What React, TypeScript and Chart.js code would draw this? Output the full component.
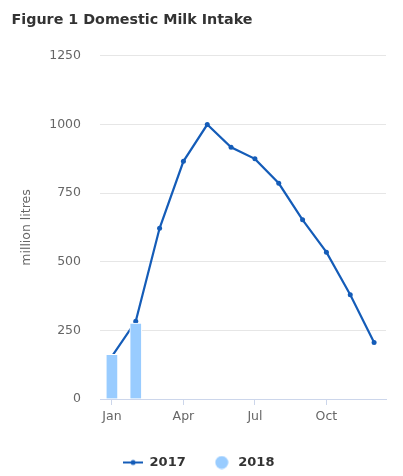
import React, { useEffect, useRef } from "react";
import { Chart, registerables } from "chart.js";

Chart.register(...registerables);

const months = ["Jan", "Feb", "Mar", "Apr", "May", "Jun", "Jul", "Aug", "Sep", "Oct", "Nov", "Dec"];
const series2017 = [155, 283, 622, 866, 1000, 917, 875, 786, 653, 535, 380, 206];
const series2018 = [163, 277];
const yTicks = [0, 250, 500, 750, 1000, 1250];

const LINE_COLOR = "#145cb8";
const BAR_COLOR = "#99ccff";
const FONT = "'DejaVu Sans', sans-serif";

function makeLineIcon(): HTMLCanvasElement {
  const c = document.createElement("canvas");
  c.width = 20;
  c.height = 8;
  const ctx = c.getContext("2d")!;
  ctx.strokeStyle = LINE_COLOR;
  ctx.lineWidth = 2;
  ctx.beginPath();
  ctx.moveTo(0, 4);
  ctx.lineTo(20, 4);
  ctx.stroke();
  ctx.fillStyle = LINE_COLOR;
  ctx.beginPath();
  ctx.arc(10, 4, 2.5, 0, Math.PI * 2);
  ctx.fill();
  return c;
}

function makeCircleIcon(): HTMLCanvasElement {
  const c = document.createElement("canvas");
  c.width = 14;
  c.height = 14;
  const ctx = c.getContext("2d")!;
  ctx.fillStyle = BAR_COLOR;
  ctx.beginPath();
  ctx.arc(7, 7, 6.5, 0, Math.PI * 2);
  ctx.fill();
  return c;
}

export default function App() {
  const ref = useRef<HTMLCanvasElement | null>(null);

  useEffect(() => {
    const canvas = ref.current;
    if (!canvas) return;
    const lineIcon = makeLineIcon();
    const circleIcon = makeCircleIcon();

    const legendShift = {
      id: "legendShift",
      afterLayout(chart: any) {
        if (chart.legend) {
          chart.legend.top += 3;
          chart.legend.bottom += 3;
        }
      },
    };

    const chart = new Chart(canvas, {
      type: "bar",
      data: {
        labels: months,
        datasets: [
          {
            type: "line",
            label: "2017",
            data: series2017,
            borderColor: LINE_COLOR,
            backgroundColor: LINE_COLOR,
            borderWidth: 2.2,
            pointRadius: 2.5,
            pointBackgroundColor: LINE_COLOR,
            pointBorderWidth: 0,
            tension: 0,
            order: 1,
          } as any,
          {
            type: "bar",
            label: "2018",
            data: series2018,
            backgroundColor: BAR_COLOR,
            borderColor: "#ffffff",
            borderWidth: 1,
            barThickness: 12,
            order: 0,
          },
        ],
      },
      options: {
        responsive: false,
        animation: false,
        devicePixelRatio: 1,
        layout: { padding: { left: 11.5, right: 17, top: 0, bottom: 0 } },
        plugins: {
          title: {
            display: true,
            text: "Figure 1 Domestic Milk Intake",
            align: "start",
            color: "#333333",
            font: { family: FONT, size: 14.3, weight: "bold" },
            padding: { top: 11.5, bottom: 27.3 },
          },
          legend: {
            display: true,
            position: "bottom",
            labels: {
              usePointStyle: true,
              pointStyleWidth: 20,
              padding: 26,
              color: "#333333",
              font: { family: FONT, size: 13, weight: "bold" },
              generateLabels: () => [
                {
                  text: "2017",
                  pointStyle: lineIcon as any,
                  fillStyle: LINE_COLOR,
                  strokeStyle: LINE_COLOR,
                  lineWidth: 0,
                  hidden: false,
                  datasetIndex: 0,
                  fontColor: "#333333",
                },
                {
                  text: "2018",
                  pointStyle: circleIcon as any,
                  fillStyle: BAR_COLOR,
                  strokeStyle: BAR_COLOR,
                  lineWidth: 0,
                  hidden: false,
                  datasetIndex: 1,
                  fontColor: "#333333",
                },
              ],
            },
          },
          tooltip: { enabled: false },
        },
        scales: {
          x: {
            type: "category",
            offset: true,
            afterFit: (scale: any) => {
              scale.height = 28;
            },
            grid: {
              offset: false,
              drawOnChartArea: false,
              drawTicks: true,
              tickLength: 6,
              color: (ctx: any) => (ctx.index % 3 === 0 ? "#ccd6eb" : "rgba(0,0,0,0)"),
            },
            border: { display: true, color: "#ccd6eb", width: 1 },
            ticks: {
              autoSkip: false,
              maxRotation: 0,
              padding: 4,
              color: "#666666",
              font: { family: FONT, size: 12.5 },
              callback: (_v: any, i: number) => (i % 3 === 0 ? months[i] : ""),
            },
          },
          y: {
            min: yTicks[0],
            max: yTicks[yTicks.length - 1],
            afterFit: (scale: any) => {
              scale.width = 88.5;
            },
            afterBuildTicks: (scale: any) => {
              scale.ticks = yTicks.map((v) => ({ value: v }));
            },
            grid: {
              drawTicks: false,
              color: (ctx: any) => (ctx.index === 0 ? "rgba(0,0,0,0)" : "#e6e6e6"),
              lineWidth: 1,
            },
            border: { display: false },
            ticks: {
              padding: 19,
              color: "#666666",
              font: { family: FONT, size: 12.5 },
              callback: (v: any) => String(v),
            },
            title: {
              display: true,
              text: "million litres",
              color: "#666666",
              font: { family: FONT, size: 12.5 },
              padding: { top: 8, bottom: 0 },
            },
          },
        },
      },
      plugins: [legendShift],
    });

    return () => chart.destroy();
  }, []);

  return (
    <div style={{ position: "fixed", left: 0, top: 0, width: 403, height: 476, background: "#ffffff" }}>
      <canvas ref={ref} width={403} height={476} />
    </div>
  );
}
